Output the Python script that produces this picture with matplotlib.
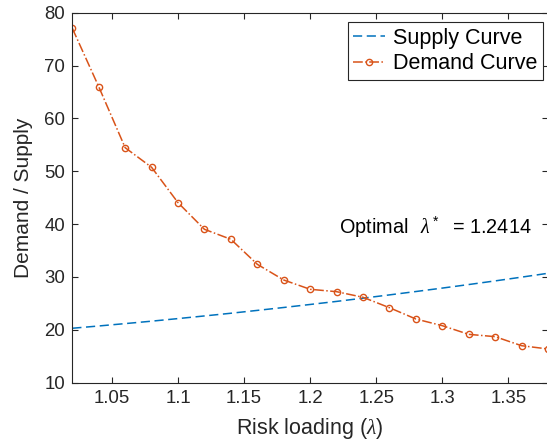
import matplotlib.pyplot as plt

plt.rcParams['font.family'] = ['Liberation Sans', 'DejaVu Sans']
plt.rcParams['mathtext.fontset'] = 'custom'
plt.rcParams['mathtext.it'] = 'Liberation Serif:italic'
plt.rcParams['mathtext.rm'] = 'Liberation Sans'

# risk loading grid
lam = [1.02, 1.04, 1.06, 1.08, 1.10, 1.12, 1.14, 1.16, 1.18, 1.20,
       1.22, 1.24, 1.26, 1.28, 1.30, 1.32, 1.34, 1.36, 1.38]

supply = [20.3, 20.73, 21.18, 21.64, 22.13, 22.63, 23.14, 23.68, 24.23, 24.80,
          25.38, 25.99, 26.61, 27.25, 27.90, 28.57, 29.26, 29.97, 30.70]

demand = [77.05, 66.0, 54.46, 50.75, 44.06, 39.02, 37.13, 32.4, 29.43, 27.67,
          27.22, 26.16, 24.19, 22.05, 20.79, 19.15, 18.71, 17.0, 16.38]

lam_opt = 1.2414

blue = '#0072BD'
orange = '#D95319'
dark = '#262626'

fig = plt.figure(figsize=(5.47, 4.41), dpi=100)
ax = fig.add_axes([0.1322, 0.1322, 0.8696, 0.839])

ax.plot(lam, supply, '--', color=blue, lw=1.1, dashes=(6, 3), label='Supply Curve')
ax.plot(lam, demand, '-.', color=orange, lw=1.1, marker='o', markersize=4.5,
        markerfacecolor='none', markeredgewidth=1.0, label='Demand Curve')

ax.text(1.2217, 39.3, r'Optimal $\ \,\lambda^*\ \ \,$= %.4f' % lam_opt, fontsize=14.3,
        va='center', ha='left')

ax.set_xlim(1.02, 1.38)
ax.set_ylim(10, 80)
ax.set_xticks([1.05, 1.1, 1.15, 1.2, 1.25, 1.3, 1.35])
ax.set_xticklabels(['1.05', '1.1', '1.15', '1.2', '1.25', '1.3', '1.35'])
ax.set_yticks([10, 20, 30, 40, 50, 60, 70, 80])

ax.tick_params(direction='in', top=True, right=True, length=4, width=0.8,
               colors=dark, labelsize=13.4, labelcolor=dark, pad=5)
for s in ax.spines.values():
    s.set_color(dark)
    s.set_linewidth(0.8)

ax.set_xlabel(r'Risk loading ($\lambda$)', fontsize=15.5, color=dark, labelpad=7)
ax.set_ylabel('Demand / Supply', fontsize=15, color=dark, labelpad=8)

leg = ax.legend(loc='upper right', fontsize=15.5, handlelength=1.5, handletextpad=0.35,
                borderpad=0.25, labelspacing=0.22, fancybox=False, framealpha=1,
                edgecolor=dark, borderaxespad=0, bbox_to_anchor=(0.989, 0.974))
leg.get_frame().set_linewidth(0.8)

fig.savefig('out.png', dpi=100)
